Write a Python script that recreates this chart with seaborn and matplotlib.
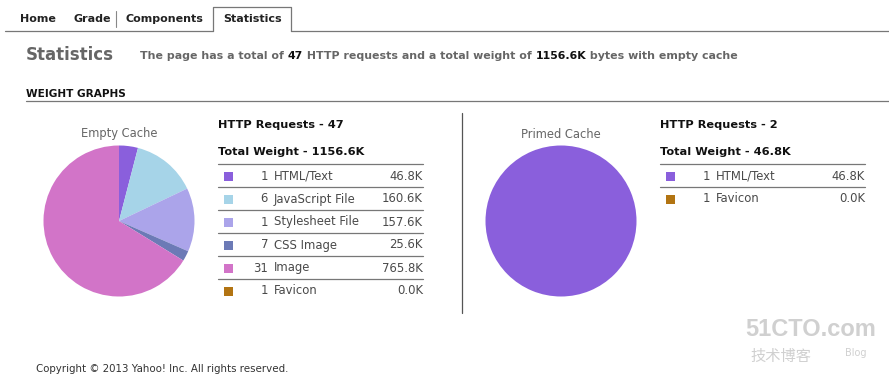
import matplotlib
matplotlib.use("Agg")
import matplotlib.pyplot as plt
import seaborn as sns
from matplotlib.patches import Rectangle

# data
categories = ['HTML/Text', 'JavaScript File', 'Stylesheet File', 'CSS Image', 'Image', 'Favicon']
empty_counts = [1, 6, 1, 7, 31, 1]
empty_weights = [46.8, 160.6, 157.6, 25.6, 765.8, 0.0]
empty_requests = 47
empty_total = 1156.6

primed_categories = ['HTML/Text', 'Favicon']
primed_counts = [1, 1]
primed_weights = [46.8, 0.0]
primed_requests = 2
primed_total = 46.8

tabs = ['Home', 'Grade', 'Components', 'Statistics']

cat_colors = {
    'HTML/Text': '#8a5fdc',
    'JavaScript File': '#a6d4e8',
    'Stylesheet File': '#aba4ea',
    'CSS Image': '#6c7ab6',
    'Image': '#d274c8',
    'Favicon': '#b27412',
}

sns.set_style("white")
plt.rcParams['font.family'] = ['DejaVu Sans', 'Noto Sans CJK SC']

W, H = 889, 383
fig = plt.figure(figsize=(W / 100, H / 100), dpi=100)
fig.patch.set_facecolor('white')

# background axes in pixel coordinates (y down)
bg = fig.add_axes([0, 0, 1, 1])
bg.set_xlim(0, W)
bg.set_ylim(H, 0)
bg.axis('off')

GREY = '#666666'
ROW = '#4a4a4a'
LINE = '#777777'

# tabs
tab_x = [20, 73, 126, 223]
for name, x in zip(tabs, tab_x):
    bg.text(x, 19, name, fontsize=8, fontweight='bold', color='#222222', va='center', ha='left')
bg.plot([116, 116], [11, 27], color='#888888', lw=0.8)
bg.plot([5, 213], [31, 31], color=LINE, lw=0.9)
bg.plot([291, W], [31, 31], color=LINE, lw=0.9)
bg.plot([213, 213, 291, 291], [31, 7, 7, 31], color=LINE, lw=0.9)

# heading
bg.text(26, 55, 'Statistics', fontsize=12, fontweight='bold', color=GREY, va='center')

fig.canvas.draw()
renderer = fig.canvas.get_renderer()


def chain(x, y, parts, **kw):
    for s, c in parts:
        t = bg.text(x, y, s, color=c, va='center', ha='left', **kw)
        bb = t.get_window_extent(renderer=renderer)
        x += bb.width


chain(140, 56, [('The page has a total of ', GREY), (f'{empty_requests}', '#111111'),
                (' HTTP requests and a total weight of ', GREY), (f'{empty_total:.1f}K', '#111111'),
                (' bytes with empty cache', GREY)], fontsize=7.9, fontweight='bold')

bg.text(26, 94, 'WEIGHT GRAPHS', fontsize=7.6, fontweight='bold', color='#111111', va='center')
bg.plot([26, W], [101, 101], color=LINE, lw=0.9)

# separator
bg.plot([461.5, 461.5], [113, 313], color='#555555', lw=0.9)


def draw_pie(cx, title, cats, weights):
    ax = fig.add_axes([(cx - 75.5) / W, 1 - (221 + 75.5) / H, 151 / W, 151 / H])
    ax.pie(weights, colors=[cat_colors[c] for c in cats], startangle=90, counterclock=False,
           wedgeprops=dict(linewidth=0))
    ax.set_xlim(-1, 1)
    ax.set_ylim(-1, 1)
    ax.set_aspect('equal')
    bg.text(cx, 134, title, fontsize=8.3, color=GREY, ha='center', va='center')


def draw_table(x0, x1, count_x, requests, total, cats, counts, weights):
    bg.text(x0, 125, f'HTTP Requests - {requests}', fontsize=8.2, fontweight='bold',
            color='#111111', va='center')
    bg.text(x0, 152, f'Total Weight - {total:.1f}K', fontsize=8.2, fontweight='bold',
            color='#111111', va='center')
    for i, (c, n, w) in enumerate(zip(cats, counts, weights)):
        ly = 164 + 23 * i
        yc = ly + 12
        bg.plot([x0, x1], [ly, ly], color=LINE, lw=0.9)
        bg.add_patch(Rectangle((x0 + 6, yc - 4.5), 9, 9, color=cat_colors[c], lw=0))
        bg.text(count_x, yc, str(n), fontsize=8.4, color=ROW, ha='right', va='center')
        bg.text(count_x + 6, yc, c, fontsize=8.4, color=ROW, ha='left', va='center')
        bg.text(x1, yc, f'{w:.1f}K', fontsize=8.4, color=ROW, ha='right', va='center')


draw_pie(119, 'Empty Cache', categories, empty_weights)
draw_table(218, 423, 268, empty_requests, empty_total, categories, empty_counts, empty_weights)

draw_pie(561, 'Primed Cache', primed_categories, primed_weights)
draw_table(660, 865, 710, primed_requests, primed_total, primed_categories, primed_counts, primed_weights)

# footer
bg.text(36, 369, 'Copyright \u00a9 2013 Yahoo! Inc. All rights reserved.', fontsize=7.4,
        color='#333333', va='center')

# watermark
bg.text(811, 330, '51CTO.com', fontsize=17, fontweight='bold', color='#d0d0d0',
        ha='center', va='center', family=['Liberation Sans'])
bg.text(750, 356, '技术博客', fontsize=11, color='#d0d0d0', ha='left', va='center',
        family=['Noto Sans CJK SC'])
bg.text(845, 353, 'Blog', fontsize=7, color='#d0d0d0', ha='left', va='center')

fig.savefig('out.png', dpi=100, facecolor='white')
